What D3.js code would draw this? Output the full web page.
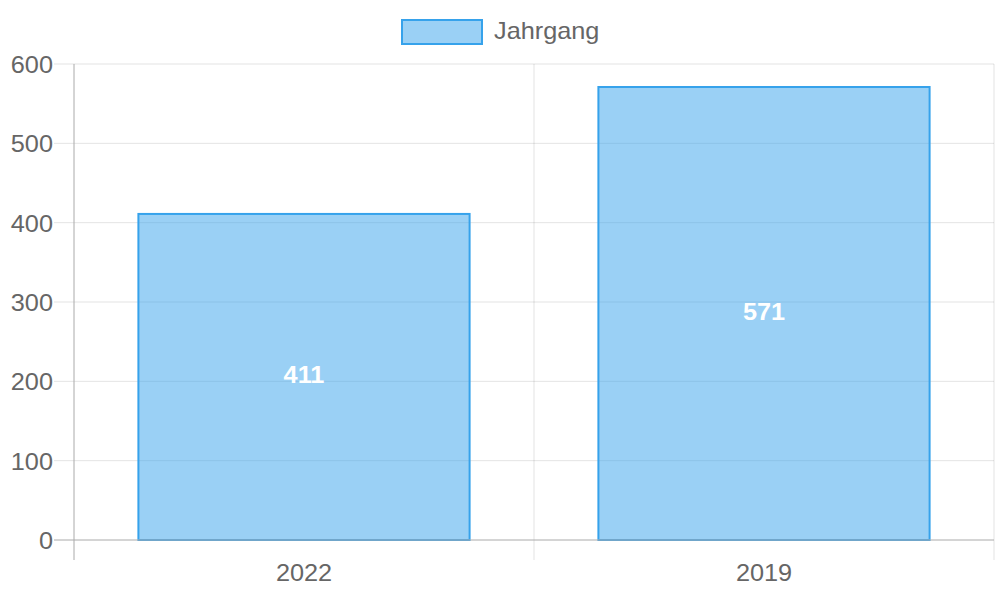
<!DOCTYPE html>
<html><head><meta charset="utf-8">
<script src="https://cdn.jsdelivr.net/npm/d3@7"></script>
<style>body{margin:0;background:#fff}svg{display:block}text{font-family:"Liberation Sans",Arial,sans-serif}</style>
</head><body>
<svg id="c" width="1000" height="600"></svg>
<script>
const categories = ["2022", "2019"];
const values = [411, 571];
const yTicks = [0, 100, 200, 300, 400, 500, 600];
const seriesName = "Jahrgang";

const svg = d3.select("#c");
const L = 74, R = 994, T = 64, B = 540;
const SX = 1.1, FS = 23;
const x = d3.scaleBand().domain(categories).range([L, R]);
const y = d3.scaleLinear().domain([0, 600]).range([B, T]);
const fill = "rgba(54,162,235,0.5)", stroke = "rgb(54,162,235)";
const grid = "rgba(0,0,0,0.11)", axisC = "#aaa";

function txt(px, py, s, anchor, opts = {}) {
  const t = svg.append("text")
    .attr("transform", `translate(${px},${py}) scale(${SX},1)`)
    .attr("dy", "0.35em").attr("text-anchor", anchor)
    .attr("fill", opts.fill || "#666").attr("font-size", FS).text(s);
  if (opts.bold) t.attr("font-weight", "bold");
  return t;
}

yTicks.forEach(t => {
  if (t === 0) return;
  svg.append("line").attr("x1", L - 20).attr("x2", R).attr("y1", y(t)).attr("y2", y(t))
    .attr("stroke", grid).attr("stroke-width", 1);
});
const bounds = categories.map(c => x(c)).concat([R]);
bounds.forEach((bx, i) => {
  if (i === 0) return;
  svg.append("line").attr("x1", bx).attr("x2", bx).attr("y1", T).attr("y2", B + 20)
    .attr("stroke", grid).attr("stroke-width", 1);
});

const bw = x.bandwidth() * 0.72;
svg.selectAll("rect.bar").data(categories).enter().append("rect")
  .attr("x", (d) => x(d) + (x.bandwidth() - bw) / 2)
  .attr("y", (d, i) => y(values[i]))
  .attr("width", bw)
  .attr("height", (d, i) => B - y(values[i]))
  .attr("fill", fill).attr("stroke", stroke).attr("stroke-width", 2);

svg.append("line").attr("x1", L).attr("x2", L).attr("y1", T).attr("y2", B + 20).attr("stroke", axisC).attr("stroke-width", 1);
svg.append("line").attr("x1", L - 20).attr("x2", R).attr("y1", B).attr("y2", B).attr("stroke", axisC).attr("stroke-width", 1);

yTicks.forEach(t => txt(53, y(t) + 1, t, "end"));
categories.forEach(c => txt(x(c) + x.bandwidth() / 2, 573, c, "middle"));
categories.forEach((c, i) => txt(x(c) + x.bandwidth() / 2, (y(values[i]) + B) / 2 - 2, values[i], "middle", {fill: "#fff", bold: true}));

svg.append("rect").attr("x", 402).attr("y", 20).attr("width", 80).attr("height", 24)
  .attr("fill", fill).attr("stroke", stroke).attr("stroke-width", 2);
txt(494, 31, seriesName, "start");
</script>
</body></html>
